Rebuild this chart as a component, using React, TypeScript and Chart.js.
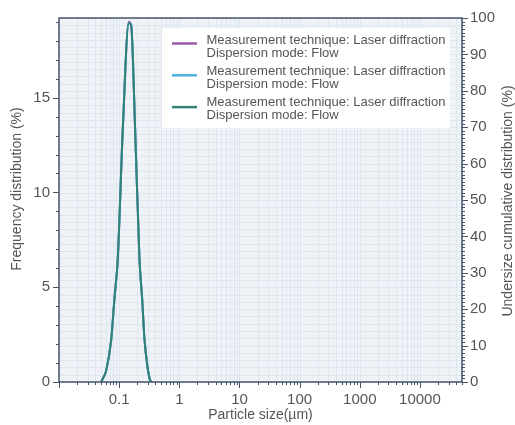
import { useEffect, useRef } from 'react';
import { Chart, registerables } from 'chart.js';

Chart.register(...registerables);

// ---- data ----
const particleSizes = [0.0502, 0.054, 0.0608, 0.0736, 0.0835, 0.0948, 0.1148, 0.1445, 0.158, 0.1844, 0.2174, 0.241, 0.263, 0.2986, 0.32, 0.34];
const freqPurple = [0, 0.2, 0.6, 2.2, 4.4, 6.5, 13.3, 19.0, 18.85, 13.3, 6.5, 4.4, 2.3, 0.7, 0.2, 0];
const freqBlue = [0, 0.2, 0.6, 2.2, 4.4, 6.5, 13.3, 18.95, 18.85, 13.3, 6.5, 4.4, 2.3, 0.7, 0.2, 0];
const freqGreen = [0, 0.2, 0.6, 2.2, 4.4, 6.5, 13.3, 18.92, 18.83, 13.3, 6.5, 4.4, 2.3, 0.7, 0.2, 0];

const seriesNames = ['Measurement technique: Laser diffraction', 'Dispersion mode: Flow'];
const seriesColors = ['#9b5aa8', '#4db3e0', '#2f8276'];

const xTickValues = [0.1, 1, 10, 100, 1000, 10000];
const xTickLabels = ['0.1', '1', '10', '100', '1000', '10000'];
const yLeftTicks = [0, 5, 10, 15];
const yRightTicks = [0, 10, 20, 30, 40, 50, 60, 70, 80, 90, 100];

const xTitle = 'Particle size(µm)';
const yLeftTitle = 'Frequency distribution (%)';
const yRightTitle = 'Undersize cumulative distribution (%)';

const xMin = 0.01;
const xMax = 50000;
const yLeftMax = 19.2;
const yRightMax = 100;

const FONT = "'Liberation Sans', Arial, Helvetica, sans-serif";
const TEXT = '#555555';
const AXIS = '#46546b';

function xMinorValues(): number[] {
  const out: number[] = [];
  for (let d = -2; d <= 4; d++) {
    for (let k = 1; k <= 9; k++) {
      const v = k * Math.pow(10, d);
      if (v >= xMin * 0.999 && v <= xMax * 1.001) out.push(v);
    }
  }
  return out;
}

const decorPlugin = {
  id: 'decor',
  beforeDraw(chart: any) {
    const { ctx, chartArea: a, scales } = chart;
    ctx.save();
    ctx.fillStyle = '#ffffff';
    ctx.fillRect(0, 0, chart.width, chart.height);
    ctx.fillStyle = '#eff2f6';
    ctx.fillRect(a.left, a.top, a.right - a.left, a.bottom - a.top);
    ctx.strokeStyle = '#e0e6ee';
    ctx.lineWidth = 1;
    for (const v of xMinorValues()) {
      const px = Math.round(scales.x.getPixelForValue(v)) + 0.5;
      ctx.beginPath();
      ctx.moveTo(px, a.top);
      ctx.lineTo(px, a.bottom);
      ctx.stroke();
    }
    for (let v = 0; v <= yRightMax; v += 2) {
      const py = Math.round(scales.y2.getPixelForValue(v)) + 0.5;
      ctx.beginPath();
      ctx.moveTo(a.left, py);
      ctx.lineTo(a.right, py);
      ctx.stroke();
    }
    ctx.restore();
  },
  afterDraw(chart: any) {
    const { ctx, chartArea: a, scales } = chart;
    ctx.save();
    // frame
    ctx.strokeStyle = AXIS;
    ctx.lineWidth = 1.5;
    ctx.strokeRect(a.left, a.top, a.right - a.left, a.bottom - a.top);
    ctx.lineWidth = 1;
    // left ticks
    for (let v = 0; v <= Math.floor(yLeftMax); v++) {
      const py = Math.round(scales.y.getPixelForValue(v)) + 0.5;
      const len = v % 5 === 0 ? 6 : 3;
      ctx.beginPath();
      ctx.moveTo(a.left - len, py);
      ctx.lineTo(a.left, py);
      ctx.stroke();
    }
    // right ticks
    for (let v = 0; v <= yRightMax; v++) {
      const py = Math.round(scales.y2.getPixelForValue(v)) + 0.5;
      const len = v % 10 === 0 ? 6 : 3;
      ctx.beginPath();
      ctx.moveTo(a.right, py);
      ctx.lineTo(a.right + len, py);
      ctx.stroke();
    }
    // bottom ticks
    for (const v of xMinorValues()) {
      const px = Math.round(scales.x.getPixelForValue(v)) + 0.5;
      const major = Math.abs(Math.log10(v) - Math.round(Math.log10(v))) < 1e-9;
      const len = major ? 6 : 3;
      ctx.beginPath();
      ctx.moveTo(px, a.bottom);
      ctx.lineTo(px, a.bottom + len);
      ctx.stroke();
    }
    // vertical axis titles (both read bottom-to-top)
    ctx.fillStyle = TEXT;
    ctx.font = `14px ${FONT}`;
    ctx.textAlign = 'center';
    ctx.textBaseline = 'middle';
    ctx.save();
    ctx.translate(17, 189);
    ctx.rotate(-Math.PI / 2);
    ctx.fillText(yLeftTitle, 0, 0);
    ctx.restore();
    ctx.save();
    ctx.translate(508, 201);
    ctx.rotate(-Math.PI / 2);
    ctx.fillText(yRightTitle, 0, 0);
    ctx.restore();
    // legend
    const lx = 162, ly = 28, lw = 288, lh = 100;
    ctx.fillStyle = '#ffffff';
    ctx.fillRect(lx, ly, lw, lh);
    ctx.font = `13px ${FONT}`;
    ctx.textBaseline = 'middle';
    ctx.textAlign = 'left';
    seriesColors.forEach((c, i) => {
      const sy = 43.5 + i * 31.8;
      ctx.strokeStyle = c;
      ctx.lineWidth = 2.5;
      ctx.beginPath();
      ctx.moveTo(172, sy);
      ctx.lineTo(197, sy);
      ctx.stroke();
      ctx.fillStyle = TEXT;
      ctx.fillText(seriesNames[0], 206.5, 40.3 + i * 31);
      ctx.fillText(seriesNames[1], 206.5, 53.3 + i * 31);
    });
    ctx.restore();
  },
};

export default function App() {
  const ref = useRef<HTMLCanvasElement | null>(null);
  useEffect(() => {
    if (!ref.current) return;
    const mk = (data: number[], color: string, order: number) => ({
      data: particleSizes.map((x, i) => ({ x, y: data[i] })),
      borderColor: color,
      backgroundColor: color,
      borderWidth: 2,
      pointRadius: 0,
      tension: 0,
      cubicInterpolationMode: 'monotone' as const,
      fill: false,
      order,
      yAxisID: 'y',
      xAxisID: 'x',
    });
    const chart = new Chart(ref.current, {
      type: 'line',
      data: {
        datasets: [
          mk(freqPurple, seriesColors[0], 3),
          mk(freqBlue, seriesColors[1], 2),
          mk(freqGreen, seriesColors[2], 1),
        ],
      },
      plugins: [decorPlugin],
      options: {
        responsive: false,
        animation: false,
        devicePixelRatio: 1,
        layout: { padding: { top: 15, left: 0, right: 0, bottom: 0 } },
        plugins: { legend: { display: false }, tooltip: { enabled: false } },
        scales: {
          x: {
            type: 'logarithmic',
            position: 'bottom',
            min: xMin,
            max: xMax,
            grid: { display: false, drawTicks: false },
            border: { display: false },
            ticks: {
              autoSkip: false,
              maxRotation: 0,
              padding: 9,
              color: TEXT,
              font: { size: 15, family: FONT },
              callback: (v: any) => {
                const i = xTickValues.findIndex((t) => Math.abs(t - v) / t < 1e-6);
                return i >= 0 ? xTickLabels[i] : '';
              },
            },
            afterBuildTicks: (s: any) => {
              s.ticks = xTickValues.map((value) => ({ value }));
            },
            afterFit: (s: any) => {
              s.height = 43;
            },
            title: {
              display: true,
              text: xTitle,
              color: TEXT,
              font: { size: 14, family: FONT },
              padding: { top: 0, bottom: 1 },
            },
          },
          y: {
            position: 'left',
            min: 0,
            max: yLeftMax,
            grid: { display: false, drawTicks: false },
            border: { display: false },
            ticks: {
              padding: 9,
              color: TEXT,
              font: { size: 15, family: FONT },
              callback: (v: any) => String(v),
            },
            afterBuildTicks: (s: any) => {
              s.ticks = yLeftTicks.map((value) => ({ value }));
            },
            afterFit: (s: any) => {
              s.width = 59;
            },
            title: { display: false },
          },
          y2: {
            position: 'right',
            min: 0,
            max: yRightMax,
            grid: { display: false, drawTicks: false },
            border: { display: false },
            ticks: {
              padding: 8,
              color: TEXT,
              font: { size: 15, family: FONT },
              callback: (v: any) => String(v),
            },
            afterBuildTicks: (s: any) => {
              s.ticks = yRightTicks.map((value) => ({ value }));
            },
            afterFit: (s: any) => {
              s.width = 53;
            },
            title: { display: false },
          },
        },
      },
    } as any);
    return () => chart.destroy();
  }, []);
  return (
    <div style={{ position: 'fixed', left: 0, top: 0, width: 515, height: 425, background: '#fff' }}>
      <canvas ref={ref} width={515} height={425} style={{ display: 'block', width: 515, height: 425 }} />
    </div>
  );
}
